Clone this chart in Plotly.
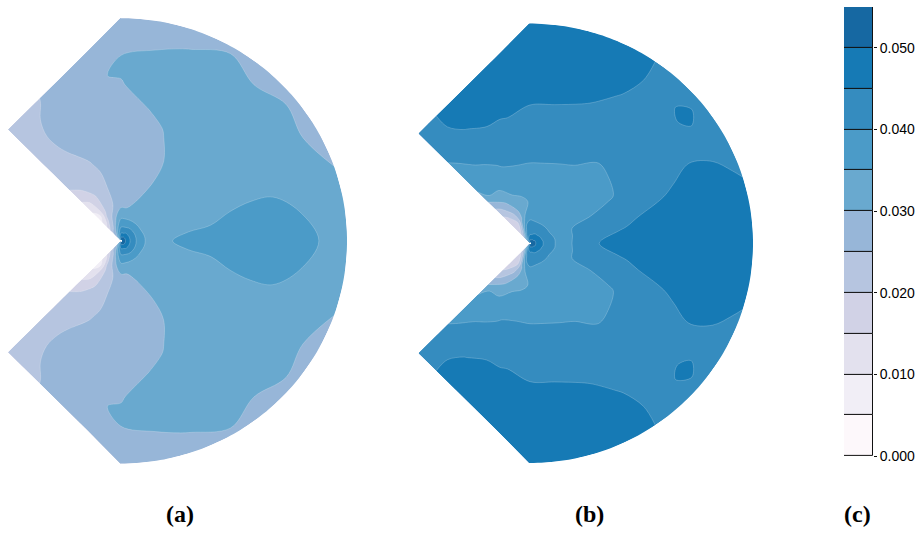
import numpy as np
import plotly.graph_objects as go

# Polar sampling of the notched specimen (upper half; the field is symmetric
# about the notch bisector).  Rows: angle from the bisector, columns: fraction
# of the distance from the notch tip to the outer boundary.
THETA_DEG = [0, 10, 20, 30, 40, 50, 60, 70, 80, 90, 100, 110, 120, 130, 135]
S_FRAC = [0.005, 0.02, 0.04, 0.07, 0.1, 0.15, 0.2, 0.3, 0.4, 0.5, 0.6, 0.7, 0.8, 0.9, 1.0]

FIELD_A = [
    [0.056, 0.050, 0.045, 0.0395, 0.0352, 0.0337, 0.0344, 0.0366, 0.0377, 0.0381, 0.0381, 0.0377, 0.0363, 0.0345, 0.0335],
    [0.056, 0.050, 0.045, 0.0395, 0.0352, 0.0335, 0.0338, 0.0345, 0.0350, 0.0360, 0.0365, 0.0362, 0.0349, 0.0335, 0.0315],
    [0.056, 0.050, 0.045, 0.0395, 0.0351, 0.0333, 0.0332, 0.0335, 0.0338, 0.0341, 0.0344, 0.0343, 0.0335, 0.0320, 0.0299],
    [0.056, 0.050, 0.045, 0.0395, 0.0350, 0.0332, 0.0328, 0.0330, 0.0333, 0.0334, 0.0333, 0.0330, 0.0322, 0.0305, 0.0285],
    [0.056, 0.050, 0.045, 0.0395, 0.0350, 0.0331, 0.0325, 0.0324, 0.0325, 0.0326, 0.0325, 0.0323, 0.0318, 0.0308, 0.0292],
    [0.056, 0.050, 0.045, 0.0395, 0.0350, 0.0328, 0.0322, 0.0320, 0.0320, 0.0322, 0.0322, 0.0321, 0.0316, 0.0302, 0.0285],
    [0.056, 0.050, 0.045, 0.0393, 0.0350, 0.0318, 0.0308, 0.0301, 0.0301, 0.0307, 0.0314, 0.0318, 0.0318, 0.0310, 0.0295],
    [0.055, 0.049, 0.044, 0.0390, 0.0350, 0.0305, 0.0298, 0.0295, 0.0296, 0.0298, 0.0304, 0.0310, 0.0312, 0.0302, 0.0285],
    [0.055, 0.049, 0.044, 0.0388, 0.0350, 0.0300, 0.0295, 0.0292, 0.0293, 0.0295, 0.0299, 0.0306, 0.0308, 0.0296, 0.0283],
    [0.055, 0.048, 0.044, 0.0385, 0.0350, 0.0299, 0.0293, 0.0290, 0.0290, 0.0292, 0.0295, 0.0299, 0.0303, 0.0293, 0.0282],
    [0.052, 0.046, 0.041, 0.036, 0.033, 0.0285, 0.0255, 0.0262, 0.0270, 0.0275, 0.0278, 0.0284, 0.0297, 0.02995, 0.0285],
    [0.049, 0.043, 0.037, 0.033, 0.029, 0.025, 0.0235, 0.0235, 0.0240, 0.0255, 0.0265, 0.0272, 0.0277, 0.0280, 0.0278],
    [0.046, 0.039, 0.033, 0.028, 0.024, 0.021, 0.019, 0.0195, 0.0215, 0.0228, 0.0248, 0.0258, 0.0260, 0.0255, 0.0248],
    [0.043, 0.036, 0.030, 0.026, 0.021, 0.013, 0.009, 0.014, 0.0195, 0.0220, 0.0230, 0.0235, 0.0240, 0.0240, 0.0240],
    [0.040, 0.033, 0.027, 0.024, 0.019, 0.011, 0.008, 0.012, 0.0185, 0.0212, 0.0225, 0.0230, 0.0235, 0.0240, 0.0240],
]

FIELD_B = [
    [0.057, 0.051, 0.0475, 0.0435, 0.0405, 0.0385, 0.0405, 0.0448, 0.0470, 0.0480, 0.0485, 0.0485, 0.0483, 0.0480, 0.0478],
    [0.057, 0.051, 0.0475, 0.0435, 0.0404, 0.0388, 0.0402, 0.0425, 0.0445, 0.0458, 0.0467, 0.0470, 0.0470, 0.0468, 0.0465],
    [0.057, 0.051, 0.047, 0.043, 0.0402, 0.0385, 0.0400, 0.0417, 0.0430, 0.0438, 0.0446, 0.0455, 0.0462, 0.0458, 0.0445],
    [0.056, 0.051, 0.047, 0.0428, 0.0400, 0.0375, 0.0375, 0.0380, 0.0395, 0.0412, 0.0425, 0.0438, 0.0445, 0.0440, 0.0438],
    [0.056, 0.050, 0.0465, 0.0425, 0.0400, 0.0372, 0.0370, 0.0374, 0.0388, 0.0408, 0.0420, 0.0430, 0.0442, 0.04555, 0.0443],
    [0.056, 0.050, 0.046, 0.0425, 0.0400, 0.0368, 0.0365, 0.0368, 0.0385, 0.0405, 0.0420, 0.0432, 0.0440, 0.0440, 0.0443],
    [0.055, 0.050, 0.046, 0.0425, 0.0400, 0.0368, 0.0362, 0.0368, 0.0398, 0.0420, 0.0435, 0.0445, 0.0452, 0.0458, 0.0455],
    [0.055, 0.049, 0.0455, 0.0425, 0.0400, 0.0367, 0.0362, 0.0375, 0.0405, 0.0428, 0.0442, 0.0453, 0.0462, 0.0467, 0.0468],
    [0.055, 0.049, 0.045, 0.0425, 0.0402, 0.0366, 0.0362, 0.0378, 0.0410, 0.0432, 0.0445, 0.0458, 0.0468, 0.0472, 0.0472],
    [0.054, 0.048, 0.045, 0.0425, 0.0405, 0.0365, 0.0360, 0.0378, 0.0412, 0.0435, 0.0447, 0.0458, 0.0468, 0.0472, 0.0472],
    [0.052, 0.047, 0.044, 0.042, 0.040, 0.035, 0.033, 0.037, 0.0395, 0.0425, 0.0442, 0.0453, 0.0468, 0.0475, 0.0478],
    [0.050, 0.045, 0.042, 0.038, 0.034, 0.029, 0.030, 0.035, 0.0385, 0.0405, 0.0425, 0.0445, 0.0465, 0.0475, 0.0478],
    [0.048, 0.042, 0.037, 0.030, 0.024, 0.020, 0.024, 0.031, 0.036, 0.0385, 0.0408, 0.0428, 0.0447, 0.0465, 0.0462],
    [0.046, 0.039, 0.032, 0.024, 0.018, 0.016, 0.019, 0.026, 0.035, 0.0375, 0.0390, 0.0405, 0.0420, 0.0435, 0.0442],
    [0.045, 0.037, 0.029, 0.021, 0.017, 0.015, 0.017, 0.024, 0.032, 0.0365, 0.0385, 0.0395, 0.0410, 0.0425, 0.0435],
]

LEVEL_EDGES = [0.000, 0.005, 0.010, 0.015, 0.020, 0.025, 0.030, 0.035, 0.040, 0.045, 0.050, 0.055]
BAND_COLORS = ["#fdf8fb", "#f1eef6", "#e3e1ee", "#d1d2e6", "#b6c5e0", "#97b6d8",
               "#69a9cf", "#4b9bc8", "#358cbf", "#167ab5", "#1668a2"]
TICK_VALUES = [0.000, 0.010, 0.020, 0.030, 0.040, 0.050]
PANEL_LABELS = ["(a)", "(b)", "(c)"]

W, H = 920, 536
HALF_STEP = np.radians(5.0)  # half of the angular sampling step


def outer_radius(theta_deg):
    """Distance from the notch tip to the specimen boundary (radius = 1).

    On the circular part the sampling polygon is pushed out so that its
    chords enclose the circle; the excess is trimmed by the arc mask."""
    t = np.radians(abs(theta_deg))
    if abs(theta_deg) <= 90:
        return 1.0 / np.cos(HALF_STEP)
    return 1.0 / (np.sin(t) - np.cos(t))


# full angular range by reflection about the bisector
theta_full = [-t for t in THETA_DEG[:0:-1]] + THETA_DEG


def full_field(upper):
    rows = [upper[THETA_DEG.index(abs(t))] for t in theta_full]
    return np.array(rows)


def carpet_xy():
    xs, ys = [], []
    for t in theta_full:
        rm = outer_radius(t)
        tr = np.radians(t)
        xs.append([s * rm * np.cos(tr) for s in S_FRAC])
        ys.append([s * rm * np.sin(tr) for s in S_FRAC])
    return np.array(xs), np.array(ys)


def arc_mask_path():
    """White region outside the unit circle on the right-hand side."""
    ang = np.radians(np.linspace(-90, 90, 181))
    pts = " ".join(f"L {np.cos(a):.5f},{np.sin(a):.5f}" for a in ang)
    return f"M 0,1.4 L 1.4,1.4 L 1.4,-1.4 L 0,-1.4 L 0,-1 {pts} Z"


# stepped colour scale: one flat colour per contour band
n_bands = len(BAND_COLORS)
colorscale = []
for k, col in enumerate(BAND_COLORS):
    lo = max(0.0, (k - 0.5) / (n_bands - 1))
    hi = min(1.0, (k + 0.5) / (n_bands - 1))
    colorscale += [[lo, col], [hi, col]]

step = LEVEL_EDGES[1] - LEVEL_EDGES[0]
hidden_axis = dict(showgrid=False, showline=False, startline=False, endline=False,
                   showticklabels="none", minorgridcount=0, smoothing=0)

fig = go.Figure()
cx, cy = carpet_xy()
for idx, (field, xa, ya) in enumerate([(FIELD_A, "x", "y"), (FIELD_B, "x2", "y2")]):
    cid = f"spec{idx}"
    fig.add_trace(go.Carpet(
        carpet=cid, a=S_FRAC, b=theta_full, x=cx, y=cy,
        aaxis=hidden_axis, baxis=hidden_axis, xaxis=xa, yaxis=ya,
    ))
    fig.add_trace(go.Contourcarpet(
        carpet=cid, a=S_FRAC, b=theta_full, z=full_field(field),
        autocontour=False,
        contours=dict(start=LEVEL_EDGES[1], end=LEVEL_EDGES[-2], size=step,
                      coloring="fill", showlines=True),
        line=dict(color="rgba(255,255,255,0.35)", width=0.6, smoothing=1.0),
        colorscale=colorscale, showscale=False, xaxis=xa, yaxis=ya,
    ))
    fig.add_shape(type="path", path=arc_mask_path(), xref=xa, yref=ya,
                  fillcolor="white", line=dict(width=0), layer="above")

# colour key as a stack of level bands
fig.add_trace(go.Bar(
    x=[0] * n_bands,
    y=np.diff(LEVEL_EDGES),
    base=LEVEL_EDGES[:-1],
    width=1.0,
    marker=dict(color=BAND_COLORS, line=dict(color="#111111", width=1)),
    xaxis="x3", yaxis="y3", hoverinfo="skip", showlegend=False,
))


def panel_axes(cx_px, cy_px, r_px):
    xd = [(cx_px - 0.5 * r_px) / W, (cx_px + r_px) / W]
    yd = [(H - (cy_px + r_px)) / H, (H - (cy_px - r_px)) / H]
    return xd, yd


xa_d, ya_d = panel_axes(121, 244.5, 226)
xb_d, yb_d = panel_axes(530, 247, 223)

off = dict(visible=False, showgrid=False, zeroline=False)
fig.update_layout(
    width=W, height=H, margin=dict(l=0, r=0, t=0, b=0),
    paper_bgcolor="white", plot_bgcolor="rgba(0,0,0,0)", showlegend=False,
    xaxis=dict(domain=xa_d, range=[-0.5, 1.0], **off),
    yaxis=dict(domain=ya_d, range=[-1.0, 1.0], **off),
    xaxis2=dict(domain=xb_d, range=[-0.5, 1.0], anchor="y2", **off),
    yaxis2=dict(domain=yb_d, range=[-1.0, 1.0], anchor="x2", **off),
    xaxis3=dict(domain=[844 / W, 873 / W], range=[-0.5, 0.5], anchor="y3", **off),
    yaxis3=dict(domain=[(H - 463) / H, (H - 7) / H], range=[LEVEL_EDGES[0], LEVEL_EDGES[-1]],
                anchor="x3", side="right", tickvals=TICK_VALUES, tickformat=".3f",
                ticks="outside", ticklen=3, tickcolor="#111111", showgrid=False,
                zeroline=False, showline=False,
                tickfont=dict(family="Liberation Sans, Arial", size=14, color="black")),
    bargap=0,
)

for label, xpx in zip(PANEL_LABELS, [180, 589, 857]):
    fig.add_annotation(
        x=xpx / W, y=1 - 522 / H, xref="paper", yref="paper",
        text=f"<b>{label}</b>", showarrow=False, xanchor="center", yanchor="middle",
        font=dict(family="Liberation Serif, Times New Roman", size=24, color="black"),
    )

fig.write_html("out.html")
